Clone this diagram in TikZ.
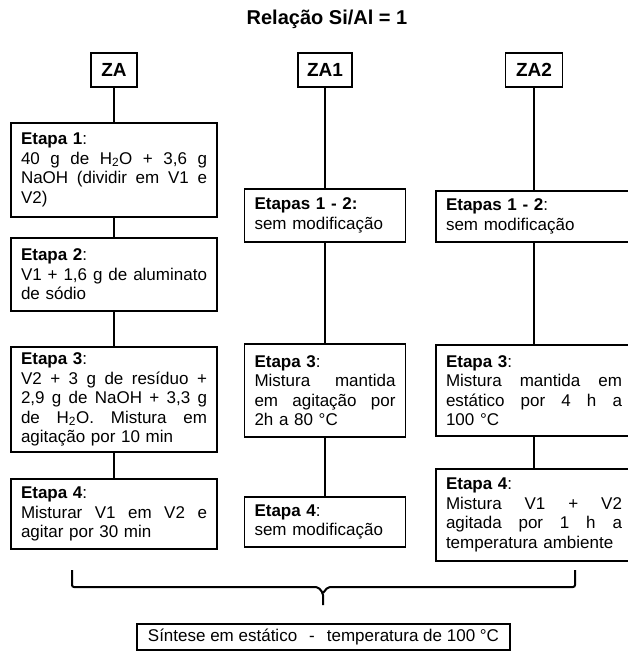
\documentclass[tikz,border=0pt]{standalone}
\usepackage{fontspec}
\setmainfont{Liberation Sans}
\newcommand{\jline}[1]{\leavevmode\hbox to\hsize{\spaceskip=4.7pt plus 1fil\relax #1}\\}

\begin{document}
\begin{tikzpicture}[x=1pt,y=-1pt]
\tikzset{
    stepbox/.style = {rectangle, draw=black, line width=1.3pt, align=left, inner xsep=10pt, inner ysep=3pt, font=\fontsize{17}{19.5}\selectfont},
    headbox/.style = {rectangle, draw=black, line width=1.5pt, minimum height=34pt, inner xsep=2pt, font=\fontsize{19}{22}\selectfont\bfseries},
    link/.style = {line width=1.2pt},
    brace/.style = {line width=2pt, rounded corners=2pt},
}
\useasboundingbox (0,0) rectangle (628,651);

\node (title) at (327,19) {\fontsize{20}{24}\selectfont\bfseries Relação Si/Al = 1};

\node[headbox, minimum width=46pt] (za) at (114,70) {ZA};
\node[headbox, minimum width=54pt] (za1) at (325,70) {ZA1};
\node[headbox, minimum width=57pt] (za2) at (534,70) {ZA2};

% ZA
\node[stepbox, text width=186pt, minimum height=94pt] (a1) at (114,170)
    {\textbf{Etapa 1}:\\ \jline{40 g de H\textsubscript{2}O + 3,6 g} \jline{NaOH (dividir em V1 e} V2)};
\node[stepbox, text width=186pt, minimum height=73pt] (a2) at (114,274.5)
    {\textbf{Etapa 2}:\\ \jline{V1 + 1,6 g de aluminato} de sódio};
\node[stepbox, text width=186pt, minimum height=105pt] (a3) at (114,399.5)
    {\textbf{Etapa 3}:\\ \jline{V2 + 3 g de resíduo +} \jline{2,9 g de NaOH + 3,3 g} \jline{de H\textsubscript{2}O. Mistura em} agitação por 10 min};
\node[stepbox, text width=186pt, minimum height=70pt] (a4) at (114,514)
    {\textbf{Etapa 4}:\\ \jline{Misturar V1 em V2 e} agitar por 30 min};

% ZA1
\node[stepbox, text width=141pt, minimum height=53pt] (b12) at (325,215.5)
    {\textbf{Etapas 1 - 2:}\\ sem modificação};
\node[stepbox, text width=141pt, minimum height=93pt] (b3) at (325,390.5)
    {\textbf{Etapa 3}:\\ \jline{Mistura mantida} \jline{em agitação por} 2h a 80 °C};
\node[stepbox, text width=141pt, minimum height=50pt] (b4) at (325,522)
    {\textbf{Etapa 4}:\\ sem modificação};

% ZA2
\node[stepbox, text width=176pt, minimum height=51pt] (c12) at (534,216.5)
    {\textbf{Etapas 1 - 2}:\\ sem modificação};
\node[stepbox, text width=176pt, minimum height=91pt] (c3) at (534,390.5)
    {\textbf{Etapa 3}:\\ \jline{Mistura mantida em} \jline{estático por 4 h a} 100 °C};
\node[stepbox, text width=176pt, minimum height=92pt] (c4) at (534,515)
    {\textbf{Etapa 4}:\\ \jline{Mistura V1 + V2} \jline{agitada por 1 h a} temperatura ambiente};

\draw[link, line width=2pt] (za) -- (a1);
\draw[link, line width=2pt] (a1) -- (a2);
\draw[link, line width=2pt] (a2) -- (a3);
\draw[link, line width=2pt] (a3) -- (a4);
\draw[link] (za1) -- (b12);
\draw[link] (b12) -- (b3);
\draw[link] (b3) -- (b4);
\draw[link] (za2) -- (c12);
\draw[link] (c12) -- (c3);
\draw[link] (c3) -- (c4);

% chave
\coordinate (bl) at (72,570);
\coordinate (br) at (575,570);
\coordinate (bm) at (323,593);
\draw[brace] (bl) -- (72,587) -- (318,587) -- (bm) -- (323,605);
\draw[brace] (br) -- (575,587) -- (328,587) -- (bm);

\node[stepbox, minimum width=373pt, minimum height=26pt, inner sep=2pt] (synth) at (323.5,637)
    {Síntese em estático\hspace{12pt}-\hspace{12pt}temperatura de 100 °C};
\end{tikzpicture}
\end{document}
